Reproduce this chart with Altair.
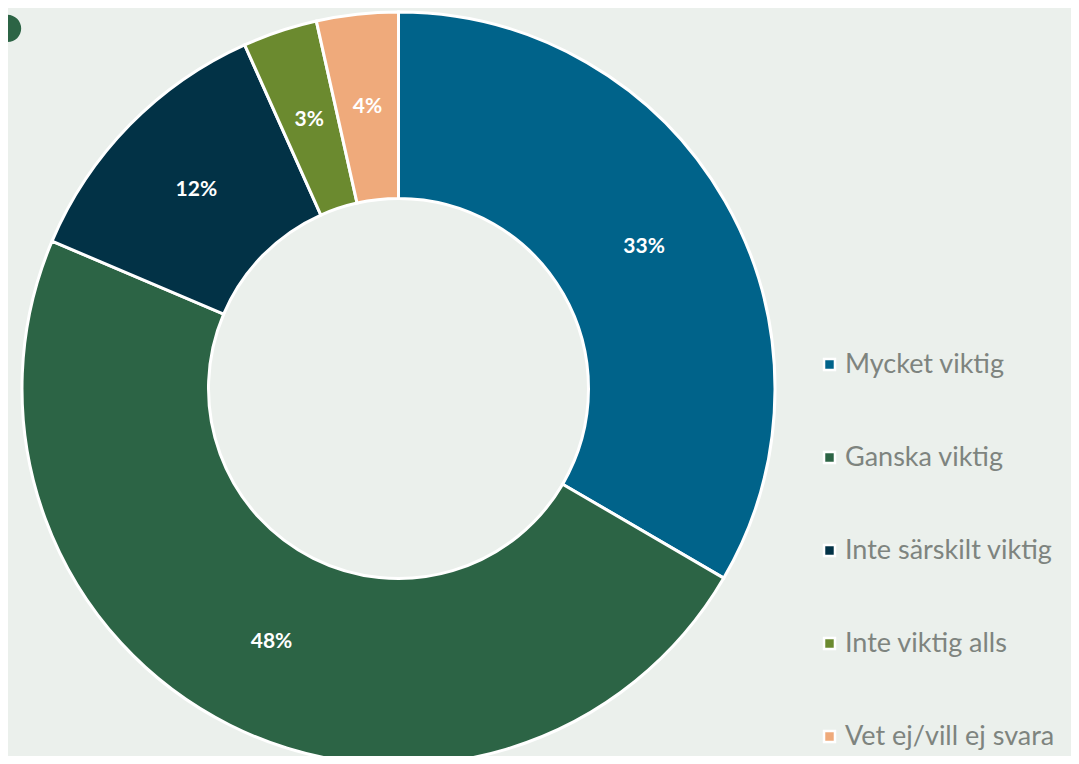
import altair as alt
import pandas as pd

categories = ["Mycket viktig", "Ganska viktig", "Inte särskilt viktig", "Inte viktig alls", "Vet ej/vill ej svara"]
values = [33.4, 48.0, 11.9, 3.2, 3.5]
labels = ["33%", "48%", "12%", "3%", "4%"]
colors = ["#00638A", "#2C6445", "#023246", "#6B8A2F", "#EFAA7B"]

df = pd.DataFrame({
    "cat": categories,
    "value": values,
    "label": labels,
    "order": list(range(len(categories))),
})

CX, CY = 390.5, 380.5
R_OUT, R_IN = 376.5, 190

base = alt.Chart(df).encode(
    theta=alt.Theta("value:Q", stack=True),
    order=alt.Order("order:Q"),
)

arcs = base.mark_arc(outerRadius=R_OUT, innerRadius=R_IN, stroke="white", strokeWidth=3).encode(
    x=alt.value(CX),
    y=alt.value(CY),
    color=alt.Color(
        "cat:N",
        scale=alt.Scale(domain=categories, range=colors),
        sort=categories,
        legend=alt.Legend(
            title=None,
            orient="none",
            legendX=808,
            legendY=343,
            padding=0,
            symbolType="square",
            symbolSize=120,
            symbolStrokeColor="white",
            symbolStrokeWidth=2.5,
            symbolOpacity=1,
            labelFont="Lato",
            labelFontSize=27,
            labelColor="#7E847F",
            labelOffset=2,
            rowPadding=65,
            labelLimit=400,
        ),
    ),
)

text = base.mark_text(radius=(R_OUT + R_IN) / 2, font="Lato", fontWeight="bold", fontSize=21, color="white").encode(
    x=alt.value(CX),
    y=alt.value(CY),
    text="label:N",
)

qdf = pd.DataFrame({"t": ["?"]})
qmark = alt.Chart(qdf).mark_text(
    font="Lato", fontWeight="bold", fontSize=180, color="#2C6445", align="center", baseline="alphabetic"
).encode(x=alt.value(4), y=alt.value(33), text="t:N")

chart = alt.layer(arcs, text, qmark).properties(
    width=1063,
    height=748,
    autosize=alt.AutoSizeParams(type="none"),
    padding=0,
).configure(background="#EBF0EC").configure_view(stroke=None)

chart.save("out.html", embed_options={"renderer": "svg", "actions": False})
